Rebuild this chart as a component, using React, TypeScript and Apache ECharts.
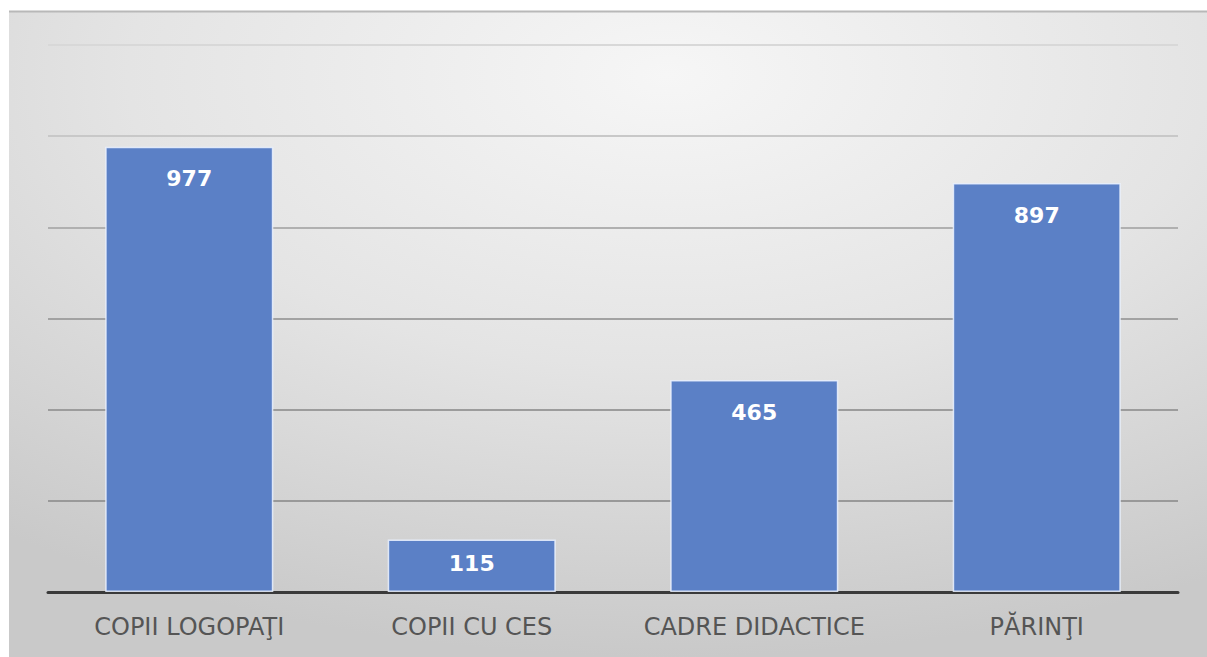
import React, { useEffect, useRef } from "react";
import * as echarts from "echarts";

const categories = ["COPII LOGOPAŢI", "COPII CU CES", "CADRE DIDACTICE", "PĂRINŢI"];
const values = [977, 115, 465, 897];
const yMin = 0;
const yMax = 1200;
const yStep = 200;

export default function App() {
  const ref = useRef<HTMLDivElement>(null);
  useEffect(() => {
    if (!ref.current) return;
    const chart = echarts.init(ref.current, null, { renderer: "svg" });
    chart.setOption({
      animation: false,
      backgroundColor: "#ffffff",
      graphic: [
        {
          type: "rect",
          z: -10,
          silent: true,
          shape: { x: 9, y: 11, width: 1198, height: 646 },
          style: {
            fill: new echarts.graphic.RadialGradient(0.55, 0.1, 0.9, [
              { offset: 0, color: "#f6f6f6" },
              { offset: 0.5, color: "#e4e4e4" },
              { offset: 1, color: "#c9c9c9" },
            ]),
          },
        },
        {
          type: "line",
          z: -9,
          silent: true,
          shape: { x1: 9, y1: 11.5, x2: 1207, y2: 11.5 },
          style: { stroke: "#b8b8b8", lineWidth: 2 },
        },
      ],
      grid: { left: 48, right: 29, top: 45, bottom: 65, containLabel: false },
      xAxis: {
        type: "category",
        data: categories,
        axisLine: { show: true, lineStyle: { color: "#3a3a3a", width: 3 } },
        axisTick: { show: false },
        axisLabel: {
          interval: 0,
          hideOverlap: false,
          color: "#555555",
          fontSize: 24,
          fontFamily: "DejaVu Sans",
          margin: 23,
        },
      },
      yAxis: {
        type: "value",
        min: yMin,
        max: yMax,
        interval: yStep,
        axisLine: { show: false },
        axisTick: { show: false },
        axisLabel: { show: false },
        splitLine: {
          lineStyle: {
            color: ["#999999", "#999999", "#9c9c9c", "#a2a2a2", "#b0b0b0", "#c8c8c8", "#d8d8d8"],
            width: 2,
          },
        },
      },
      series: [
        {
          type: "bar",
          barWidth: "59.5%",
          data: values.map((v) => ({
            value: v,
            label: { distance: v < 200 ? 13 : 21 },
          })),
          itemStyle: {
            color: "#5b80c6",
            borderColor: "rgba(235,242,255,0.85)",
            borderWidth: 1.5,
          },
          label: {
            show: true,
            position: "insideTop",
            color: "#ffffff",
            fontSize: 22,
            fontWeight: "bold",
            fontFamily: "DejaVu Sans",
          },
        },
      ],
    });
    return () => chart.dispose();
  }, []);
  return (
    <div
      ref={ref}
      style={{ position: "absolute", left: 0, top: 0, width: 1207, height: 657 }}
    />
  );
}
